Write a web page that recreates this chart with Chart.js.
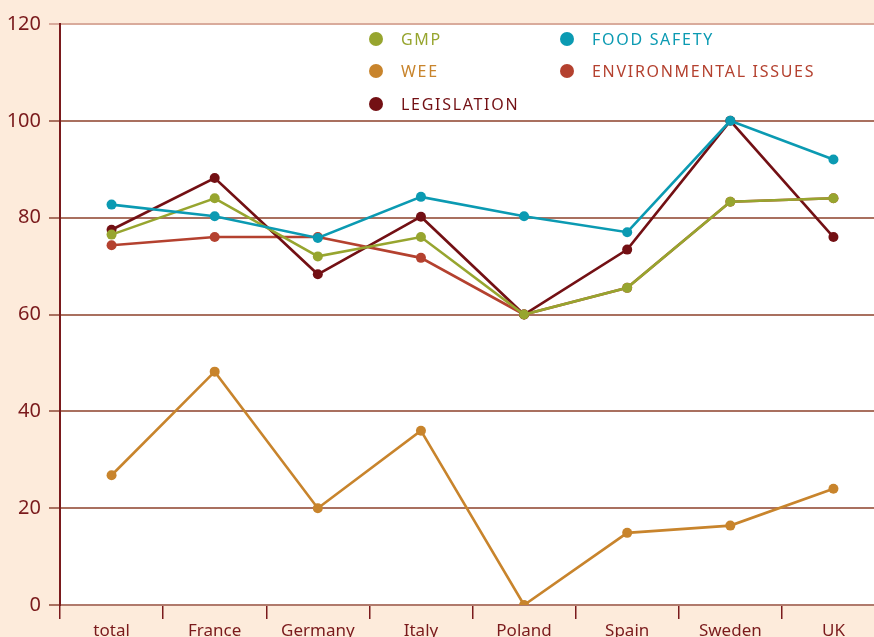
<!DOCTYPE html>
<html>
<head>
<meta charset="utf-8">
<script src="https://cdn.jsdelivr.net/npm/chart.js@4"></script>
<style>
  html, body { margin: 0; padding: 0; background: #fdebdb; overflow: hidden; }
  #wrap { width: 890px; height: 637px; }
</style>
</head>
<body>
<div id="wrap"><canvas id="myChart" width="890" height="637"></canvas></div>
<script>
// categories and values
var countries = ['total', 'France', 'Germany', 'Italy', 'Poland', 'Spain', 'Sweden', 'UK']
var gmp = [76.5, 84, 72, 76, 60, 65.5, 83.3, 84]
var foodSafety = [82.7, 80.3, 75.8, 84.3, 80.3, 77, 100, 92]
var wee = [26.8, 48.2, 20, 36, 0, 14.9, 16.4, 24]
var environmental = [74.3, 76, 76, 71.7, 60, 65.5, 83.3, 84]
var legislation = [77.5, 88.2, 68.3, 80.2, 60, 73.4, 100, 76]
var yTicks = [0, 20, 40, 60, 80, 100, 120]

var PEACH = '#fdebdb'
var DARKRED = '#7a1a1c'

function series(label, data, color, order) {
  return {
    label: label,
    data: data,
    borderColor: color,
    backgroundColor: color,
    pointBackgroundColor: color,
    pointBorderWidth: 0,
    pointRadius: 5,
    borderWidth: 2.6,
    tension: 0,
    order: order
  }
}

// peach page, white plot area
var background = {
  id: 'background',
  beforeDraw: function (chart) {
    var ctx = chart.ctx, a = chart.chartArea
    ctx.save()
    ctx.fillStyle = PEACH
    ctx.fillRect(0, 0, chart.width, chart.height)
    ctx.fillStyle = '#ffffff'
    ctx.fillRect(a.left, a.top, a.right - a.left, a.bottom - a.top)
    ctx.restore()
  }
}

// two column legend inside the plot
var legendBox = {
  id: 'legendBox',
  afterDatasetsDraw: function (chart) {
    var ctx = chart.ctx, a = chart.chartArea
    var cols = [a.left + 316, a.left + 507]
    var rows = [a.top + 15, a.top + 47, a.top + 80]
    ctx.save()
    ctx.font = '16px "Noto Sans"'
    ctx.letterSpacing = '1.7px'
    ctx.textBaseline = 'middle'
    chart.data.datasets.forEach(function (ds, i) {
      var x = cols[i % 2], y = rows[Math.floor(i / 2)]
      ctx.fillStyle = ds.borderColor
      ctx.beginPath()
      ctx.arc(x, y, 7, 0, Math.PI * 2)
      ctx.fill()
      ctx.fillText(ds.label.toUpperCase(), x + 25, y + 1)
    })
    ctx.restore()
  }
}

var ctx = document.getElementById('myChart').getContext('2d')
var chart = new Chart(ctx, {
  type: 'line',
  data: {
    labels: countries,
    datasets: [
      series('GMP', gmp, '#97a52f', 2),
      series('Food safety', foodSafety, '#0b9ab2', 1),
      series('WEE', wee, '#c8842c', 5),
      series('Environmental issues', environmental, '#b4412f', 4),
      series('Legislation', legislation, '#731014', 3)
    ]
  },
  options: {
    responsive: false,
    animation: false,
    layout: { padding: { top: 24, right: 0, left: 0, bottom: 0 } },
    plugins: { legend: { display: false }, tooltip: { enabled: false } },
    scales: {
      x: {
        offset: true,
        grid: {
          offset: true,
          drawOnChartArea: false,
          color: DARKRED,
          lineWidth: 1.5,
          tickLength: 14
        },
        border: { color: '#b07a6c', width: 2 },
        ticks: {
          color: DARKRED,
          padding: 2,
          maxRotation: 0,
          font: { family: 'Noto Sans', size: 17 }
        },
        afterFit: function (s) { s.height = 32 }
      },
      y: {
        min: 0,
        max: 120,
        afterBuildTicks: function (s) { s.ticks = yTicks.map(function (v) { return { value: v } }) },
        grid: {
          color: function (c) { return c.tick && c.tick.value === 120 ? '#d9ab9c' : '#a9705f' },
          lineWidth: 2,
          tickLength: 11
        },
        border: { color: DARKRED, width: 2 },
        ticks: {
          color: DARKRED,
          padding: 8,
          font: { family: 'Noto Sans', size: 20 }
        },
        afterFit: function (s) { s.width = 60 }
      }
    }
  },
  plugins: [background, legendBox]
})
</script>
</body>
</html>
